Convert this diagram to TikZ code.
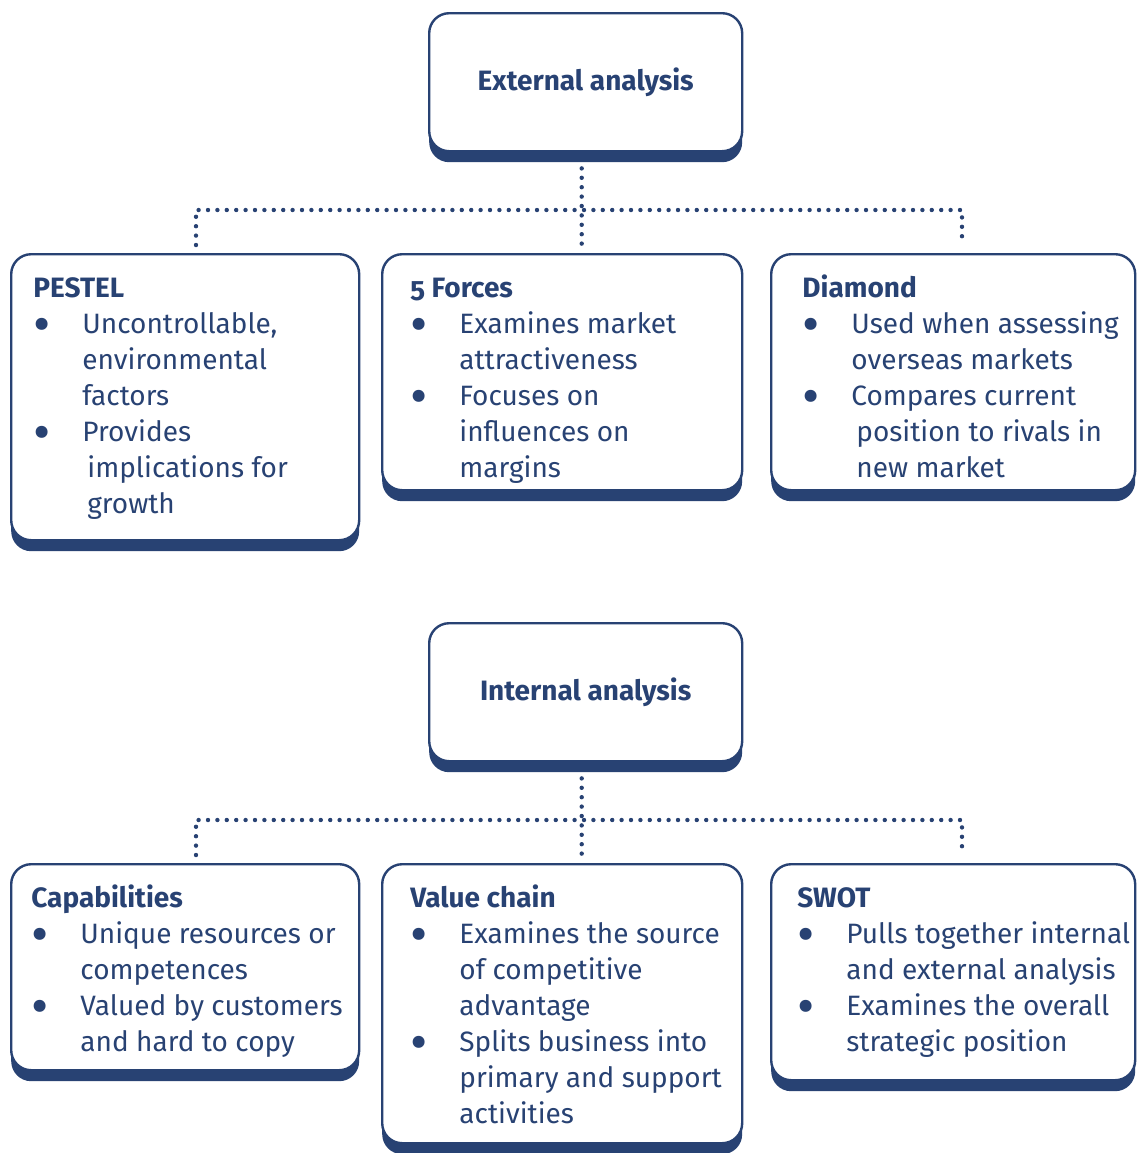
\documentclass[tikz,border=0pt]{standalone}
\usepackage{fontspec}
\usepackage{graphicx}
\setmainfont{Fira Sans}[Numbers=OldStyle]
\usetikzlibrary{shadows}
\definecolor{navy}{RGB}{40,66,115}
\newcommand{\bul}{\makebox[24.5pt][l]{\raisebox{-4.6pt}{\scalebox{1.9}{\textbullet}}}}
\newcommand{\ind}{\hspace*{24.5pt}}
\newcommand{\ttl}[1]{\rule{0pt}{12pt}\textbf{#1}}
\begin{document}
\begin{tikzpicture}[x=0.5pt,y=-0.5pt,
	card/.style={draw=navy,line width=1.2pt,rounded corners=10pt,fill=white,anchor=north west,inner sep=0pt,
		text=navy,font=\fontsize{14}{18}\selectfont\bfseries,
		drop shadow={shadow xshift=0pt,shadow yshift=-5.5pt,fill=navy,opacity=1}},
	txt/.style={anchor=north west,inner sep=0pt,align=left,text=navy,font=\fontsize{14}{18}\selectfont},
	dotline/.style={draw=navy,line width=2.2pt,line cap=round,dash pattern=on 0pt off 4.7pt}]
\useasboundingbox (0,0) rectangle (1137,1153);
% external analysis
\node[card,minimum width=156.5pt,minimum height=69pt] (ext) at (428,12) {External analysis};
\node[card,minimum width=174pt,minimum height=143pt] (pestel) at (10,253) {};
\node[card,minimum width=180pt,minimum height=118pt] (forces) at (381,253) {};
\node[card,minimum width=182pt,minimum height=118pt] (diamond) at (770,253) {};
\node[txt] (pestel-t) at ([shift={(23,20)}]pestel.north west) {\ttl{PESTEL}\\
	\bul Uncontrollable,\\ \ind environmental\\ \ind factors\\
	\bul Provides\\ \ind\hspace*{2.5pt}implications for\\ \ind\hspace*{2.5pt}growth};
\node[txt] (forces-t) at ([shift={(29,20)}]forces.north west) {\ttl{5 Forces}\\
	\bul Examines market\\ \ind attractiveness\\
	\bul Focuses on\\ \ind influences on\\ \ind margins};
\node[txt] (diamond-t) at ([shift={(32,20)}]diamond.north west) {\ttl{Diamond}\\
	\bul Used when assessing\\ \ind overseas markets\\
	\bul Compares current\\ \ind\hspace*{2.5pt}position to rivals in\\ \ind\hspace*{2.5pt}new market};
\coordinate (etop) at ([xshift=-2pt,yshift=-8pt]ext.south);
\coordinate (elft) at (196,210);
\coordinate (ergt) at (962,210);
\draw[dotline] (etop) -- ([yshift=4pt]forces.north -| etop);
\draw[dotline] ([yshift=4pt]pestel.north -| elft) -- (elft) -- (ergt) -- ([yshift=4pt]diamond.north -| ergt);
% internal analysis
\node[card,minimum width=156.5pt,minimum height=69pt] (int) at (428,622) {Internal analysis};
\node[card,minimum width=174pt,minimum height=103pt] (capab) at (10,863) {};
\node[card,minimum width=180pt,minimum height=139.5pt] (vchain) at (381,863) {};
\node[card,minimum width=182pt,minimum height=108pt] (swot) at (770,863) {};
\node[txt] (capab-t) at ([shift={(21,20)}]capab.north west) {\ttl{Capabilities}\\
	\bul Unique resources or\\ \ind competences\\
	\bul Valued by customers\\ \ind and hard to copy};
\node[txt] (vchain-t) at ([shift={(29,20)}]vchain.north west) {\ttl{Value chain}\\
	\bul Examines the source\\ \ind of competitive\\ \ind advantage\\
	\bul Splits business into\\ \ind primary and support\\ \ind activities};
\node[txt] (swot-t) at ([shift={(27,20)}]swot.north west) {\ttl{SWOT}\\
	\bul Pulls together internal\\ \ind and external analysis\\
	\bul Examines the overall\\ \ind strategic position};
\coordinate (itop) at ([xshift=-2pt,yshift=-8pt]int.south);
\coordinate (ilft) at (196,820);
\coordinate (irgt) at (962,820);
\draw[dotline] (itop) -- ([yshift=4pt]vchain.north -| itop);
\draw[dotline] ([yshift=4pt]capab.north -| ilft) -- (ilft) -- (irgt) -- ([yshift=4pt]swot.north -| irgt);
\end{tikzpicture}
\end{document}
